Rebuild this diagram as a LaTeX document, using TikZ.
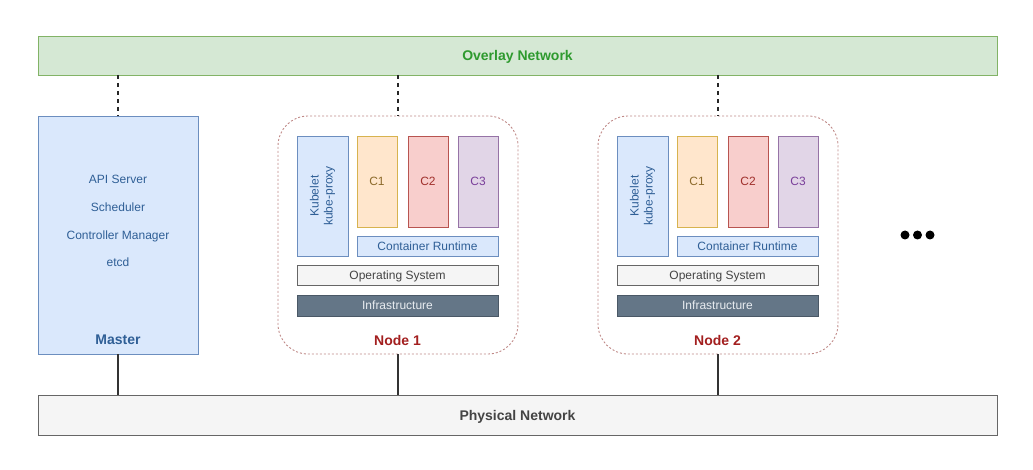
\documentclass[tikz,border=0pt]{standalone}
\usepackage{fontspec}
\setmainfont{Liberation Sans}
\definecolor{ovfill}{HTML}{D5E8D4}
\definecolor{ovline}{HTML}{82B366}
\definecolor{ovtext}{HTML}{2E9A2E}
\definecolor{bfill}{HTML}{DAE8FC}
\definecolor{bline}{HTML}{6C8EBF}
\definecolor{btext}{HTML}{2F5F96}
\definecolor{c1fill}{HTML}{FFE6CC}
\definecolor{c1line}{HTML}{D7B34F}
\definecolor{c1text}{HTML}{8C6A2A}
\definecolor{c2fill}{HTML}{F8CECC}
\definecolor{c2line}{HTML}{B85450}
\definecolor{c2text}{HTML}{A0302C}
\definecolor{c3fill}{HTML}{E1D5E7}
\definecolor{c3line}{HTML}{9673A6}
\definecolor{c3text}{HTML}{7A3F9A}
\definecolor{gfill}{HTML}{F5F5F5}
\definecolor{gline}{HTML}{666666}
\definecolor{gtext}{HTML}{444444}
\definecolor{infill}{HTML}{647687}
\definecolor{inline}{HTML}{4A5866}
\definecolor{intext}{HTML}{E8ECF0}
\definecolor{nline}{HTML}{C08A88}
\definecolor{ntext}{HTML}{A31F1F}
\begin{document}
\begin{tikzpicture}[x=1pt,y=-1pt,
  every node/.style={inner sep=0pt, outer sep=0pt},
  small/.style={font=\fontsize{12}{14}\selectfont, text height=8.6pt, text depth=0pt},
  blk/.style={draw, line width=0.9pt, small},
  bold14/.style={font=\fontsize{14}{16}\selectfont\bfseries, text height=10pt, text depth=0pt},
  overlaylink/.style={line width=2pt, draw=black!85, dash pattern=on 4.5pt off 3.5pt},
  physlink/.style={line width=2pt, draw=black!80},
  nodebox/.style={draw=nline, line width=0.9pt, dash pattern=on 2pt off 2pt, rounded corners=30pt, fill=white}
]
\useasboundingbox (0,0) rectangle (1033,470);

% networks
\node[blk, draw=ovline, fill=ovfill, minimum width=959pt, minimum height=39pt,
      bold14, text=ovtext] (overlay) at (517.5,55.5) {Overlay Network};
\node[blk, draw=gline, fill=gfill, minimum width=959pt, minimum height=40pt,
      bold14, text=gtext] (phys) at (517.5,415) {Physical Network};

% master
\node[blk, draw=bline, fill=bfill, minimum width=160pt, minimum height=238pt] (master) at (118,235) {};
\node[small, text=btext] (api) at (118,179) {API Server};
\node[small, text=btext] (sched) at (118,207) {Scheduler};
\node[small, text=btext] (cm) at (118,235) {Controller Manager};
\node[small, text=btext] (etcd) at (118,262) {etcd};
\node[bold14, text=btext] (mlabel) at (118,339) {Master};

\draw[overlaylink] (overlay.south -| master.north) -- (master.north);
\draw[physlink] (master.south) -- (phys.north -| master.south);

% worker nodes
\foreach \n/\dx in {1/0,2/320}{
  \node[nodebox, minimum width=240pt, minimum height=238pt] (node\n) at (398+\dx,235) {};
  \node[blk, draw=bline, fill=bfill, minimum width=51pt, minimum height=120pt] (kube\n) at (322.5+\dx,196) {};
  \node[font=\fontsize{12}{14}\selectfont, text=btext, rotate=90, align=center] (kubet\n) at (322.5+\dx,196) {Kubelet\\kube-proxy};
  \node[blk, draw=c1line, fill=c1fill, text=c1text, minimum width=40pt, minimum height=91pt] (c1\n) at (377+\dx,181.5) {C1};
  \node[blk, draw=c2line, fill=c2fill, text=c2text, minimum width=40pt, minimum height=91pt] (c2\n) at (428+\dx,181.5) {C2};
  \node[blk, draw=c3line, fill=c3fill, text=c3text, minimum width=40pt, minimum height=91pt] (c3\n) at (478+\dx,181.5) {C3};
  \node[blk, draw=bline, fill=bfill, text=btext, minimum width=141pt, minimum height=20pt] (cr\n) at (427.5+\dx,246) {Container Runtime};
  \node[blk, draw=gline, fill=gfill, text=gtext, minimum width=201pt, minimum height=20pt] (os\n) at (397.5+\dx,275) {Operating System};
  \node[blk, draw=inline, fill=infill, text=intext, minimum width=201pt, minimum height=21pt] (inf\n) at (397.5+\dx,305.5) {Infrastructure};
  \node[bold14, text=ntext] (nl\n) at (397.5+\dx,340) {Node \n};
  \draw[overlaylink] (overlay.south -| node\n.north) -- (node\n.north);
  \draw[physlink] (node\n.south) -- (phys.north -| node\n.south);
}

% ellipsis
\foreach \i/\x in {1/905,2/917.5,3/930}{
  \fill[black] (\x,235) circle (4.5pt) coordinate (dot\i);
}
\end{tikzpicture}
\end{document}
